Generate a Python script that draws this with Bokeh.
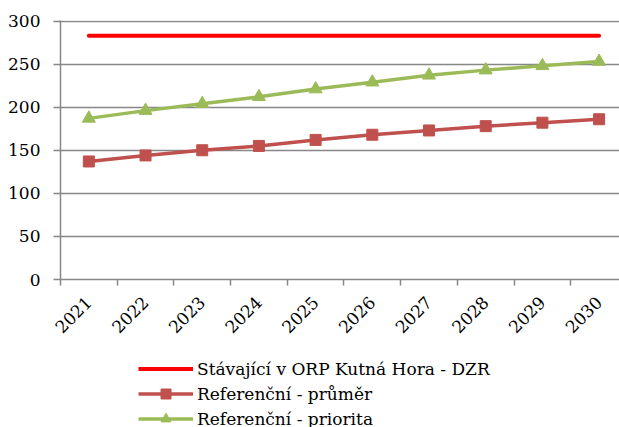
import math
from bokeh.plotting import figure
from bokeh.layouts import column
from bokeh.models import FixedTicker, Range1d, Legend, LegendItem, Label
from bokeh.embed import file_html
from bokeh.resources import INLINE

# ---- data ----
years = ["2021", "2022", "2023", "2024", "2025", "2026", "2027", "2028", "2029", "2030"]
stavajici = [283, 283, 283, 283, 283, 283, 283, 283, 283, 283]
prumer = [137, 144, 150, 155, 162, 168, 173, 178, 182, 186]
priorita = [187, 196, 204, 212, 221, 229, 237, 243, 248, 253]
y_ticks = [0, 50, 100, 150, 200, 250, 300]
title_text = "Lůžka absolutně"
names = ["Stávající v ORP Kutná Hora - DZR", "Referenční - průměr", "Referenční - priorita"]

FONT = "DejaVu Serif"
FS = "17px"
GRID = "#878787"
C_RED, C_DRED, C_GREEN = "#FF0000", "#C0504D", "#9BBB59"

x = list(range(len(years)))

p = figure(width=619, height=350, x_range=Range1d(-0.5, 9.36), y_range=Range1d(0, 300.6),
           output_backend="svg", toolbar_location=None,
           min_border_left=60, min_border_right=0, min_border_top=20, min_border_bottom=71)
p.outline_line_color = None
p.background_fill_color = "white"
p.xgrid.visible = False
p.ygrid.grid_line_color = GRID
p.ygrid.grid_line_width = 1.5
p.ygrid.ticker = FixedTicker(ticks=y_ticks)

# y axis
p.yaxis.ticker = FixedTicker(ticks=y_ticks)
p.yaxis.axis_line_color = GRID
p.yaxis.axis_line_width = 1.5
p.yaxis.major_tick_line_color = GRID
p.yaxis.major_tick_line_width = 1.5
p.yaxis.major_tick_out = 7
p.yaxis.major_tick_in = 0
p.yaxis.minor_tick_line_color = None
p.yaxis.major_label_text_font = FONT
p.yaxis.major_label_text_font_size = FS
p.yaxis.major_label_text_color = "black"
p.yaxis.major_label_standoff = 13

# x axis: labels at category centres, tick marks at boundaries
bounds = [i - 0.5 for i in range(len(years) + 1)]
p.xaxis.ticker = FixedTicker(ticks=x, minor_ticks=bounds)
p.xaxis.major_label_overrides = {i: y for i, y in zip(x, years)}
p.xaxis.major_label_orientation = math.pi / 4
p.xaxis.major_tick_line_color = None
p.xaxis.major_tick_out = 0
p.xaxis.minor_tick_line_color = GRID
p.xaxis.minor_tick_line_width = 1.5
p.xaxis.minor_tick_out = 6
p.xaxis.minor_tick_in = 0
p.xaxis.axis_line_color = GRID
p.xaxis.axis_line_width = 1.5
p.xaxis.major_label_text_font = FONT
p.xaxis.major_label_text_font_size = FS
p.xaxis.major_label_text_color = "black"
p.xaxis.major_label_standoff = 14

# series
p.line(x, stavajici, line_color=C_RED, line_width=4, line_cap="round")
p.line(x, prumer, line_color=C_DRED, line_width=3.5)
p.scatter(x, prumer, marker="square", size=11, fill_color=C_DRED, line_color=C_DRED)
p.line(x, priorita, line_color=C_GREEN, line_width=3.5)
p.scatter(x, priorita, marker="triangle", size=13, fill_color=C_GREEN, line_color=C_GREEN)

title = Label(x=-53, y=275, x_units="screen", y_units="screen", text=title_text,
              text_font=FONT, text_font_size=FS, text_font_style="bold",
              text_baseline="alphabetic", text_align="left", text_color="black")
p.add_layout(title)

# legend strip below the chart; its glyphs use the same series but lie outside the strip's view
q = figure(width=619, height=77, x_range=Range1d(100, 101), y_range=Range1d(1000, 1001),
           output_backend="svg", toolbar_location=None, min_border=0)
q.axis.visible = False
q.grid.visible = False
q.outline_line_color = None
g1 = q.line(x, stavajici, line_color=C_RED, line_width=4)
g2l = q.line(x, prumer, line_color=C_DRED, line_width=3.5)
g2m = q.scatter(x, prumer, marker="square", size=11, fill_color=C_DRED, line_color=C_DRED)
g3l = q.line(x, priorita, line_color=C_GREEN, line_width=3.5)
g3m = q.scatter(x, priorita, marker="triangle", size=13, fill_color=C_GREEN, line_color=C_GREEN)

legend = Legend(items=[LegendItem(label=names[0], renderers=[g1]),
                       LegendItem(label=names[1], renderers=[g2l, g2m]),
                       LegendItem(label=names[2], renderers=[g3l, g3m])],
                location=(78, -4), orientation="vertical")
legend.glyph_width = 55
legend.glyph_height = 25
legend.label_height = 25
legend.spacing = 0
legend.padding = 0
legend.margin = 0
legend.label_standoff = 4
legend.border_line_color = None
legend.background_fill_alpha = 0
legend.label_text_font = FONT
legend.label_text_font_size = FS
legend.label_text_color = "black"
q.add_layout(legend, "center")

layout = column(p, q, spacing=0)
open("out.html", "w").write(file_html(layout, INLINE))
